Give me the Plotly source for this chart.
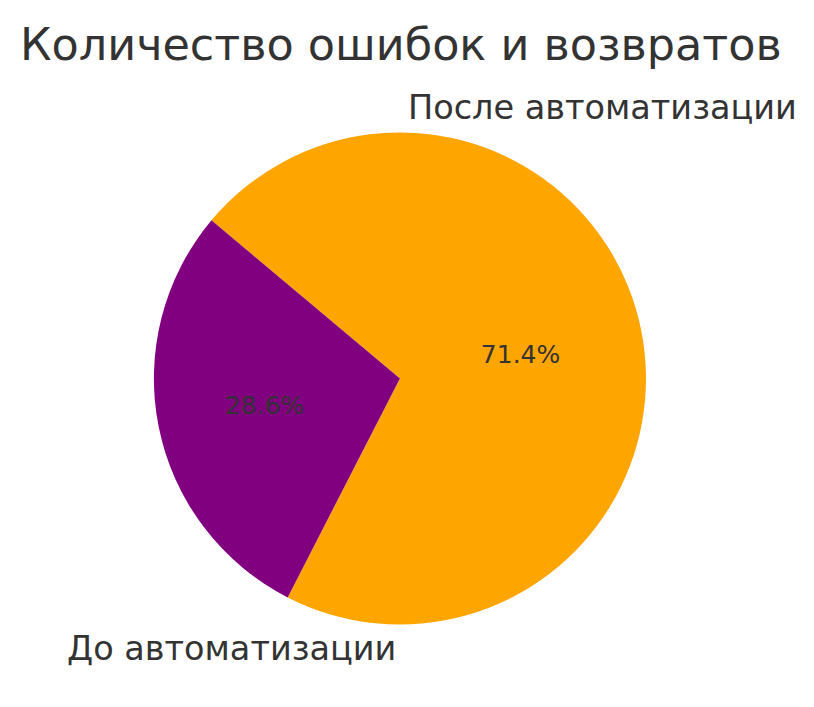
import plotly.graph_objects as go

labels = ['До автоматизации', 'После автоматизации']
values = [50, 20]
colors = ['orange', 'purple']

fig = go.Figure(go.Pie(
    labels=labels, values=values, sort=False, direction='clockwise',
    rotation=-50, marker=dict(colors=colors),
    texttemplate='%{percent:.1%}', textposition='inside',
    insidetextorientation='horizontal',
    textfont=dict(size=25, color='#333333'),
    domain=dict(x=[0.179, 0.784], y=[0.128, 0.824]),
    showlegend=False, hoverinfo='label+percent'
))

fig.add_annotation(text='После автоматизации', x=398, y=707 - 99, xref='x', yref='y',
                   xanchor='left', showarrow=False, font=dict(size=33.5, color='#333333'))
fig.add_annotation(text='До автоматизации', x=57, y=707 - 640, xref='x', yref='y',
                   xanchor='left', showarrow=False, font=dict(size=33.5, color='#333333'))

fig.update_layout(
    width=814, height=707,
    margin=dict(l=0, r=0, t=0, b=0),
    paper_bgcolor='white', plot_bgcolor='white',
    font=dict(family='DejaVu Sans', color='#333333'),
    xaxis=dict(range=[0, 814], visible=False, fixedrange=True),
    yaxis=dict(range=[0, 707], visible=False, fixedrange=True),
    title=dict(text='Количество ошибок и возвратов', x=12 / 814, xanchor='left',
               y=1 - 36 / 707, yanchor='middle', font=dict(size=44.5, color='#333333'))
)

fig.write_html('out.html')
